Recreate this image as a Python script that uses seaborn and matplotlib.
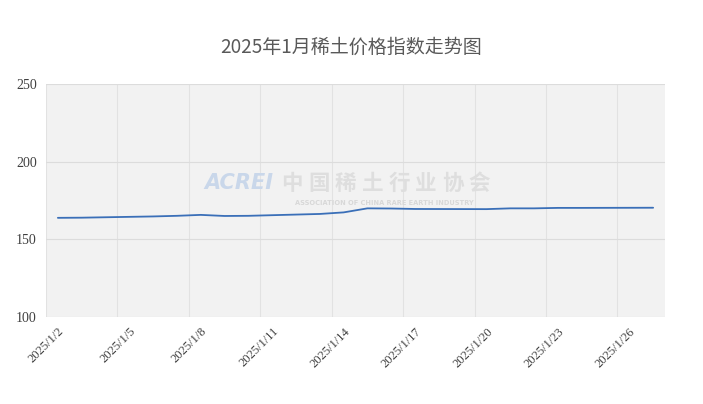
import numpy as np
import pandas as pd
import matplotlib
matplotlib.use('Agg')
import matplotlib.pyplot as plt
import matplotlib.dates as mdates
import seaborn as sns

# data
dates = ['2025-01-02', '2025-01-03', '2025-01-06', '2025-01-07', '2025-01-08',
         '2025-01-09', '2025-01-10', '2025-01-13', '2025-01-14', '2025-01-15',
         '2025-01-16', '2025-01-17', '2025-01-20', '2025-01-21', '2025-01-22',
         '2025-01-23', '2025-01-24', '2025-01-27']
index_vals = [163.9, 164.0, 164.8, 165.2, 165.8,
              165.1, 165.2, 166.4, 167.4, 170.0,
              169.9, 169.6, 169.5, 170.0, 170.0,
              170.3, 170.3, 170.4]
tick_days = ['2025-01-02', '2025-01-05', '2025-01-08', '2025-01-11', '2025-01-14',
             '2025-01-17', '2025-01-20', '2025-01-23', '2025-01-26']
tick_labels = ['2025/1/2', '2025/1/5', '2025/1/8', '2025/1/11', '2025/1/14',
               '2025/1/17', '2025/1/20', '2025/1/23', '2025/1/26']
title = '2025年1月稀土价格指数走势图'
wm_cn = '中国稀土行业协会'

df = pd.DataFrame({'date': pd.to_datetime(dates), 'value': index_vals})

sns.set_theme(style='white')
plt.rcParams['font.family'] = ['Liberation Serif', 'Noto Sans CJK SC', 'DejaVu Sans']

fig = plt.figure(figsize=(7.03, 4.04), dpi=100)
ax = fig.add_axes([0.0654, 0.215, 0.8806, 0.577])
ax.set_facecolor('#f2f2f2')

sns.lineplot(data=df, x='date', y='value', ax=ax, color='#3a6fb8', linewidth=1.3)

half = pd.Timedelta(hours=12)
ax.set_xlim(df['date'].min() - half, df['date'].max() + half)
ax.set_ylim(100, 250)
ax.set_yticks([100, 150, 200, 250])

tk = pd.to_datetime(tick_days)
ax.set_xticks(tk)
ax.set_xticklabels(tick_labels, rotation=45, ha='right', rotation_mode='anchor',
                   fontsize=9, color='#404040')
ax.set_xticks(tk - half, minor=True)
ax.tick_params(axis='y', labelsize=10, labelcolor='#404040', length=0, pad=6.5)
ax.tick_params(axis='x', which='both', length=0, pad=6)

ax.grid(axis='y', color='#dcdcdc', linewidth=0.8)
ax.grid(axis='x', which='minor', color='#e2e2e2', linewidth=0.8)
ax.set_axisbelow(True)
for s in ax.spines.values():
    s.set_visible(False)
ax.set_xlabel('')
ax.set_ylabel('')

# watermark
fig.text(0.34, 0.547, 'ACREI', fontsize=15, fontweight='bold', style='italic',
         color='#c9d7ea', ha='center', va='center', family='DejaVu Sans')
for i, ch in enumerate(wm_cn):
    fig.text((292 + i * 26.8) / 703, 0.547, ch, fontsize=15.5, color='#dedede',
             ha='center', va='center', family='Noto Sans CJK SC', fontweight='bold')
fig.text(0.547, 0.497, 'ASSOCIATION OF CHINA RARE EARTH INDUSTRY', fontsize=4.8,
         color='#d8d8d8', ha='center', va='center', family='DejaVu Sans', fontweight='bold')

fig.suptitle(title, x=0.5, y=0.91, fontsize=13.7, color='#595959',
             family=['Noto Sans CJK SC', 'DejaVu Sans'])

fig.savefig('out.png', dpi=100, facecolor='white')
